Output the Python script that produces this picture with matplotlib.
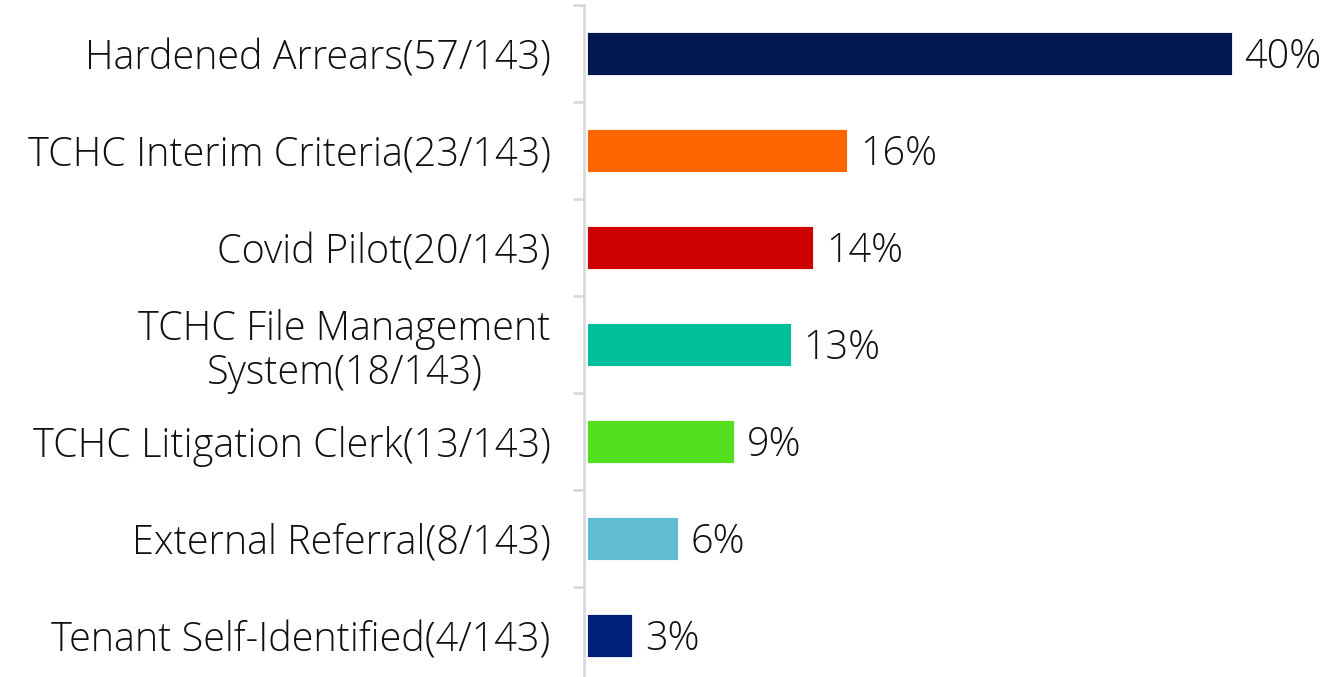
import matplotlib.pyplot as plt

# Source counts out of 143 referrals
labels = ["Hardened Arrears(57/143)", "TCHC Interim Criteria(23/143)",
          "Covid Pilot(20/143)", "TCHC File Management\nSystem(18/143)",
          "TCHC Litigation Clerk(13/143)", "External Referral(8/143)",
          "Tenant Self-Identified(4/143)"]
counts = [57, 23, 20, 18, 13, 8, 4]
total = 143
colors = ["#02164F", "#FF6600", "#CC0000", "#00BF9A", "#52E01E", "#5FBCD3", "#00207A"]

pcts = [c / total * 100 for c in counts]

plt.rcParams['font.family'] = ['Open Sans', 'DejaVu Sans']
plt.rcParams['font.weight'] = 'light'

fig = plt.figure(figsize=(13.34, 6.77), dpi=100)
ax = fig.add_axes([584 / 1334, 1 - 684 / 677, 1 - 584 / 1334, 679 / 677])

ypos = list(range(len(labels)))
ax.barh(ypos, pcts, left=0.2, height=0.45, color=colors, edgecolor="white", linewidth=0.6)

for y, p in zip(ypos, pcts):
    ax.annotate(f"{p:.0f}%", (p + 0.2, y), xytext=(9, -3), textcoords="offset points",
                va="center", ha="left", fontsize=28.5, color="#111111")

ax.set_ylim(len(labels) - 0.5, -0.5)
ax.set_xlim(0, 46.4)

# category labels
ax.set_yticks(ypos)
ax.set_yticklabels(labels, fontsize=28.5, color="#111111", multialignment="center",
                   linespacing=1.1)
ax.tick_params(axis="y", length=0, pad=24)
# boundary tick marks
ax.set_yticks([i - 0.5 for i in range(len(labels))], minor=True)
ax.tick_params(axis="y", which="minor", length=8, width=2, color="#D9D9D9")

ax.set_xticks([])
for s in ["top", "right", "bottom"]:
    ax.spines[s].set_visible(False)
ax.spines["left"].set_color("#D9D9D9")
ax.spines["left"].set_linewidth(2)

plt.savefig("out.png", dpi=100)
